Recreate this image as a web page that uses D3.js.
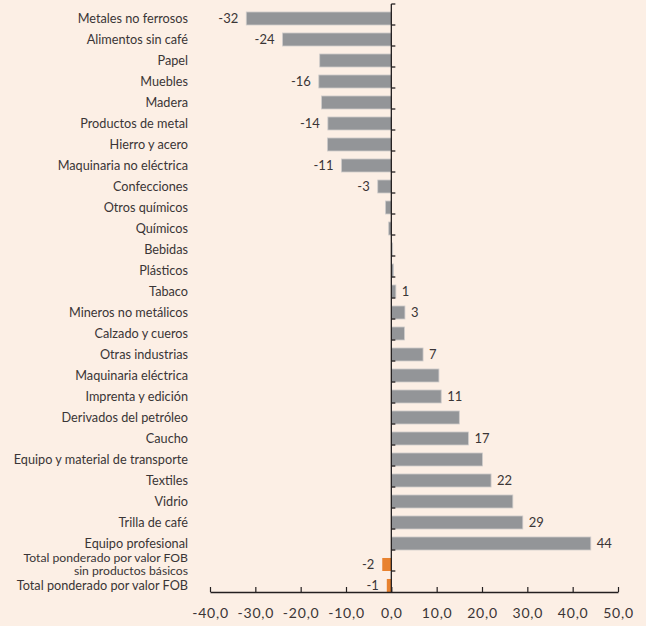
<!DOCTYPE html>
<html>
<head>
<meta charset="utf-8">
<script src="https://cdn.jsdelivr.net/npm/d3@7/dist/d3.min.js"></script>
<style>
  html, body { margin: 0; padding: 0; background: #fcefe5; }
  svg { display: block; }
  text { font-family: Lato, "Open Sans", sans-serif; fill: #3a3536; }
</style>
</head>
<body>
<svg id="chart" width="646" height="626"></svg>
<script>
// Sector categories, top to bottom
const categories = [
  "Metales no ferrosos", "Alimentos sin café", "Papel", "Muebles", "Madera",
  "Productos de metal", "Hierro y acero", "Maquinaria no eléctrica", "Confecciones",
  "Otros químicos", "Químicos", "Bebidas", "Plásticos", "Tabaco",
  "Mineros no metálicos", "Calzado y cueros", "Otras industrias", "Maquinaria eléctrica",
  "Imprenta y edición", "Derivados del petróleo", "Caucho",
  "Equipo y material de transporte", "Textiles", "Vidrio", "Trilla de café",
  "Equipo profesional",
  "Total ponderado por valor FOB\nsin productos básicos",
  "Total ponderado por valor FOB"
];

// Percentage change per sector
const values = [
  -32, -24, -15.8, -16, -15.4,
  -14, -14.1, -11, -3,
  -1.3, -0.6, 0.3, 0.5, 1,
  3, 2.9, 7, 10.5,
  11, 15.0, 17,
  20.1, 22, 26.8, 29,
  44,
  -2,
  -1
];

// Value annotations shown next to some bars (null = no label)
const valueLabels = [
  "-32", "-24", null, "-16", null,
  "-14", null, "-11", "-3",
  null, null, null, null, "1",
  "3", null, "7", null,
  "11", null, "17",
  null, "22", null, "29",
  "44",
  "-2",
  "-1"
];

// Bars that represent totals get the highlight colour
const isTotal = categories.map((c, i) => i >= 26);

// Horizontal axis ticks
const tickValues = [-40, -30, -20, -10, 0, 10, 20, 30, 40, 50];

const svg = d3.select("#chart");

const x = d3.scaleLinear().domain([-40, 50]).range([210, 618]);
const y = d3.scaleBand().domain(categories).range([4, 592]).padding(0);
const barH = y.bandwidth() * 0.62;

const rows = categories.map((c, i) => ({
  cat: c, value: values[i], label: valueLabels[i], total: isTotal[i]
}));

// Bars, sitting on the lower part of each band
svg.append("g")
  .selectAll("rect")
  .data(rows)
  .join("rect")
  .attr("x", d => x(Math.min(0, d.value)))
  .attr("y", d => y(d.cat) + y.bandwidth() - barH)
  .attr("width", d => Math.abs(x(d.value) - x(0)))
  .attr("height", barH)
  .attr("fill", d => d.total ? "#e8822f" : "#939598")
  .attr("stroke", d => d.total ? "none" : "#cfcccb")
  .attr("stroke-width", 0.8);

// Value annotations
svg.append("g")
  .selectAll("text")
  .data(rows.filter(d => d.label))
  .join("text")
  .attr("x", d => d.value < 0 ? x(d.value) - 8 : x(d.value) + 6)
  .attr("y", d => y(d.cat) + y.bandwidth() - barH / 2)
  .attr("dy", "0.35em")
  .attr("text-anchor", d => d.value < 0 ? "end" : "start")
  .style("font-size", "13px")
  .text(d => d.label);

// Category labels, right aligned
const catG = svg.append("g");
rows.forEach(d => {
  const lines = d.cat.split("\n");
  const multi = lines.length > 1;
  const cy = y(d.cat) + y.bandwidth() - barH / 2 + (multi ? 0 : 0.5);
  const lh = 13;
  const t = catG.append("text")
    .attr("x", 188)
    .attr("text-anchor", "end")
    .style("font-size", multi ? "12.2px" : "12.7px");
  lines.forEach((ln, k) => {
    t.append("tspan")
      .attr("x", 188)
      .attr("y", cy + (k - (lines.length - 1) / 2) * lh)
      .attr("dy", "0.35em")
      .text(ln);
  });
});

// Zero line with band-boundary ticks
const zeroG = svg.append("g");
zeroG.append("line")
  .attr("x1", x(0)).attr("x2", x(0))
  .attr("y1", y.range()[0]).attr("y2", y.range()[1])
  .attr("stroke", "#231f20").attr("stroke-width", 1.3);
zeroG.selectAll("line.tick")
  .data(categories)
  .join("line")
  .attr("class", "tick")
  .attr("x1", x(0)).attr("x2", x(0) + 4)
  .attr("y1", d => y(d)).attr("y2", d => y(d))
  .attr("stroke", "#231f20").attr("stroke-width", 1.3);

// Bottom axis, ticks pointing up
const fmt = v => v.toFixed(1).replace(".", ",");
const xAxis = d3.axisBottom(x)
  .tickValues(tickValues)
  .tickFormat(fmt)
  .tickSizeInner(-5)
  .tickSizeOuter(0)
  .tickPadding(16);

const axG = svg.append("g")
  .attr("transform", `translate(0,${y.range()[1]})`)
  .call(xAxis);
axG.select(".domain").attr("stroke", "#231f20").attr("stroke-width", 1.3);
axG.selectAll(".tick line").attr("stroke", "#231f20").attr("stroke-width", 1.2);
axG.selectAll(".tick text")
  .style("font-family", "Lato, 'Open Sans', sans-serif")
  .style("font-size", "14px")
  .style("letter-spacing", "0.8px")
  .attr("fill", "#3a3536");
</script>
</body>
</html>
